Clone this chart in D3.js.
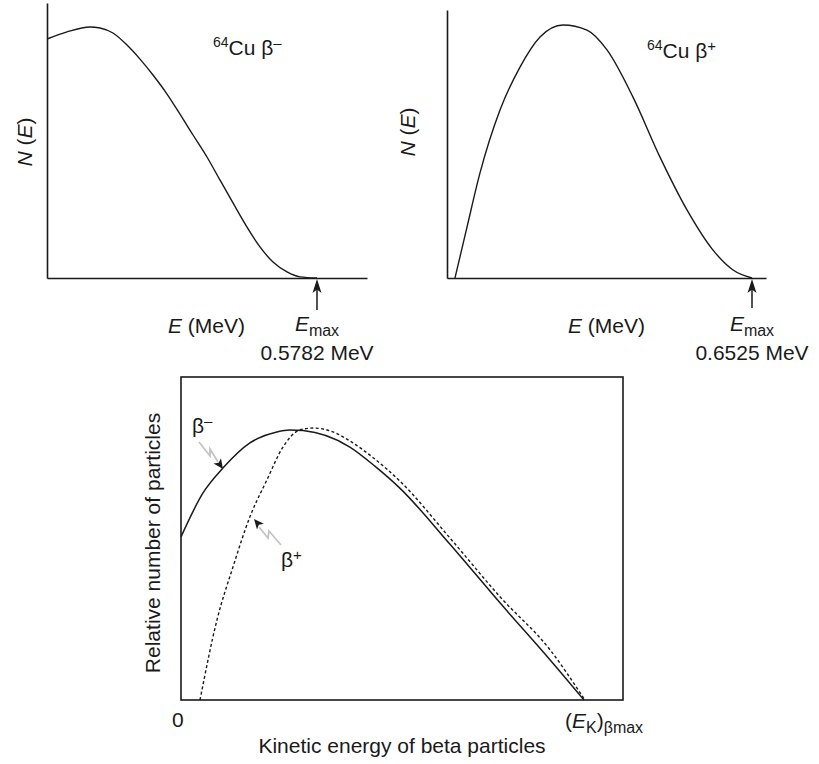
<!DOCTYPE html>
<html><head><meta charset="utf-8">
<script src="https://cdn.jsdelivr.net/npm/d3@7"></script>
<style>
html,body{margin:0;padding:0;background:#fff;}
text{font-family:"Liberation Sans",Arial,sans-serif;fill:#1a1a1a;}
</style></head>
<body>
<svg id="c" width="819" height="764"></svg>
<script>
// ---- Data ----
// Top-left: 64Cu beta-minus spectrum (E in MeV, N relative)
const cuMinusE = [0, 0.0428, 0.0921, 0.1135, 0.1413, 0.1713, 0.1992, 0.2270, 0.2570, 0.2848, 0.3127, 0.3426, 0.3705, 0.3983, 0.4283, 0.4561, 0.4840, 0.5140, 0.5418, 0.5782];
const cuMinusN = [0.869, 0.895, 0.913, 0.909, 0.891, 0.847, 0.796, 0.738, 0.669, 0.596, 0.520, 0.440, 0.356, 0.273, 0.185, 0.113, 0.058, 0.022, 0.004, 0];
const cuMinusEmax = 0.5782;
// Top-right: 64Cu beta-plus spectrum
const cuPlusE = [0.0171, 0.0428, 0.0706, 0.1134, 0.1562, 0.1990, 0.2482, 0.2995, 0.3423, 0.3979, 0.4557, 0.5134, 0.5691, 0.6119, 0.6525];
const cuPlusN = [0, 0.190, 0.392, 0.627, 0.787, 0.899, 0.944, 0.925, 0.851, 0.675, 0.451, 0.254, 0.104, 0.030, 0];
const cuPlusEmax = 0.6525;
// Bottom: generic comparison (E relative to Emax)
const betaMinusE = [0, 0.0546, 0.104, 0.171, 0.238, 0.270, 0.303, 0.419, 0.481, 0.543, 0.667, 0.792, 0.916, 1.0];
const betaMinusN = [0.505, 0.641, 0.718, 0.796, 0.830, 0.836, 0.834, 0.783, 0.724, 0.656, 0.483, 0.300, 0.124, 0];
const betaPlusE = [0.0471, 0.0893, 0.129, 0.171, 0.213, 0.253, 0.295, 0.328, 0.377, 0.419, 0.481, 0.543, 0.667, 0.792, 0.916, 1.002];
const betaPlusN = [0, 0.248, 0.412, 0.567, 0.681, 0.783, 0.836, 0.842, 0.830, 0.802, 0.746, 0.678, 0.502, 0.319, 0.155, 0];
const emaxLabels = ["0.5782 MeV", "0.6525 MeV"];

const svg = d3.select("#c");
const ink = "#1a1a1a";
const FS = 21;

function zip(xs, ys){ return xs.map((x,i)=>[x, ys[i]]); }

function arrowHead(g, x, y, dir, len, half){ // tip at x,y pointing along dir (deg)
  len = len || 10; half = half || 4.5;
  g.append("path").attr("d",`M0,0 L${-len},${-half} L${-len*0.75},0 L${-len},${half} Z`)
   .attr("transform",`translate(${x},${y}) rotate(${dir})`).attr("fill",ink);
}

function topPanel(cfg){
  const g = svg.append("g");
  const x = d3.scaleLinear().domain([0, cfg.xMax]).range([cfg.x0, cfg.x1]);
  const y = d3.scaleLinear().domain([0, 1]).range([278, cfg.yTop]);
  g.append("g").attr("transform",`translate(0,${y(0)})`)
    .call(d3.axisBottom(x).ticks(0).tickSizeOuter(0))
    .call(s=>s.select(".domain").attr("stroke",ink).attr("stroke-width",1.6));
  g.append("g").attr("transform",`translate(${x(0)},0)`)
    .call(d3.axisLeft(y).ticks(0).tickSizeOuter(0))
    .call(s=>s.select(".domain").attr("stroke",ink).attr("stroke-width",1.6));
  const line = d3.line().x(d=>x(d[0])).y(d=>y(d[1])).curve(d3.curveMonotoneX);
  g.append("path").attr("d", line(zip(cfg.E, cfg.N))).attr("fill","none")
    .attr("stroke",ink).attr("stroke-width",1.4);
  const xe = x(cfg.emax);
  g.append("line").attr("x1",xe).attr("x2",xe).attr("y1",y(0)+10).attr("y2",cfg.arrowTail)
    .attr("stroke",ink).attr("stroke-width",1.5);
  arrowHead(g, xe, y(0)+1, -90, 14, 4.5);
  const t = g.append("text").attr("x",cfg.titleX).attr("y",cfg.titleY).attr("font-size",FS);
  t.append("tspan").attr("font-size",14).attr("dy",-8).text("64");
  t.append("tspan").attr("dy",8).text("Cu β");
  t.append("tspan").attr("font-size",15).attr("dy",-7).text(cfg.sign);
  const xl = g.append("text").attr("x",cfg.xlabX).attr("y",333).attr("font-size",FS);
  xl.append("tspan").attr("font-style","italic").text("E");
  xl.append("tspan").text(" (MeV)");
  const em = g.append("text").attr("x",xe).attr("y",331).attr("font-size",FS).attr("text-anchor","middle");
  em.append("tspan").attr("font-style","italic").text("E");
  em.append("tspan").attr("font-size",16).attr("dy",5).text("max");
  g.append("text").attr("x",xe).attr("y",360).attr("font-size",FS).attr("text-anchor","middle").text(cfg.emaxLabel);
  const yl = g.append("text").attr("transform",`translate(${cfg.ylabX},${cfg.ylabY}) rotate(-90)`)
    .attr("font-size",FS).attr("text-anchor","middle");
  yl.append("tspan").attr("font-style","italic").text("N");
  yl.append("tspan").text(" (");
  yl.append("tspan").attr("font-style","italic").text("E");
  yl.append("tspan").text(")");
}

topPanel({x0:47, x1:367, yTop:3, xMax:cuMinusEmax*320/270, E:cuMinusE, N:cuMinusN, emax:cuMinusEmax,
  arrowTail:310, titleX:213, titleY:55, sign:"–", xlabX:168, emaxLabel:emaxLabels[0], ylabX:32, ylabY:142});
topPanel({x0:447, x1:766, yTop:10, xMax:cuPlusEmax*319/305, E:cuPlusE, N:cuPlusN, emax:cuPlusEmax,
  arrowTail:308, titleX:647, titleY:58, sign:"+", xlabX:568, emaxLabel:emaxLabels[1], ylabX:415, ylabY:132});

// ---- Bottom panel ----
{
  const g = svg.append("g");
  const x = d3.scaleLinear().domain([0, 442/403]).range([181, 623]);
  const y = d3.scaleLinear().domain([0, 1]).range([700, 377]);
  g.append("rect").attr("x",x(0)).attr("y",y(1)).attr("width",x.range()[1]-x(0)).attr("height",y(0)-y(1))
    .attr("fill","none").attr("stroke",ink).attr("stroke-width",1.6);
  const line = d3.line().x(d=>x(d[0])).y(d=>y(d[1])).curve(d3.curveMonotoneX);
  g.append("path").attr("d", line(zip(betaMinusE, betaMinusN))).attr("fill","none")
    .attr("stroke",ink).attr("stroke-width",1.5);
  g.append("path").attr("d", line(zip(betaPlusE, betaPlusN))).attr("fill","none")
    .attr("stroke",ink).attr("stroke-width",1.4).attr("stroke-dasharray","3,2.4");
  const gray = "#c4c4c4";
  g.append("path").attr("d","M199,442 L210,456 L210,449 L218,462").attr("fill","none")
    .attr("stroke",gray).attr("stroke-width",1.8);
  arrowHead(g, 223, 469, 55, 10, 4.5);
  g.append("path").attr("d","M281,545 L269,531 L268,538 L259,527").attr("fill","none")
    .attr("stroke",gray).attr("stroke-width",1.8);
  arrowHead(g, 254, 519, 230, 10, 4.5);
  const bm = g.append("text").attr("x",192).attr("y",433).attr("font-size",FS);
  bm.append("tspan").text("β");
  bm.append("tspan").attr("font-size",15).attr("dy",-7).text("–");
  const bp = g.append("text").attr("x",281).attr("y",567).attr("font-size",FS);
  bp.append("tspan").text("β");
  bp.append("tspan").attr("font-size",15).attr("dy",-7).text("+");
  g.append("text").attr("x",172).attr("y",727).attr("font-size",FS).text("0");
  const ek = g.append("text").attr("x",565).attr("y",728).attr("font-size",FS);
  ek.append("tspan").text("(");
  ek.append("tspan").attr("font-style","italic").text("E");
  ek.append("tspan").attr("font-size",16).attr("dy",5).text("K");
  ek.append("tspan").attr("dy",-5).text(")");
  ek.append("tspan").attr("font-size",16).attr("dy",5).text("βmax");
  g.append("text").attr("x",402).attr("y",753).attr("font-size",FS).attr("text-anchor","middle")
    .text("Kinetic energy of beta particles");
  g.append("text").attr("transform","translate(160,543) rotate(-90)").attr("font-size",FS)
    .attr("text-anchor","middle").text("Relative number of particles");
}
</script>
</body></html>
